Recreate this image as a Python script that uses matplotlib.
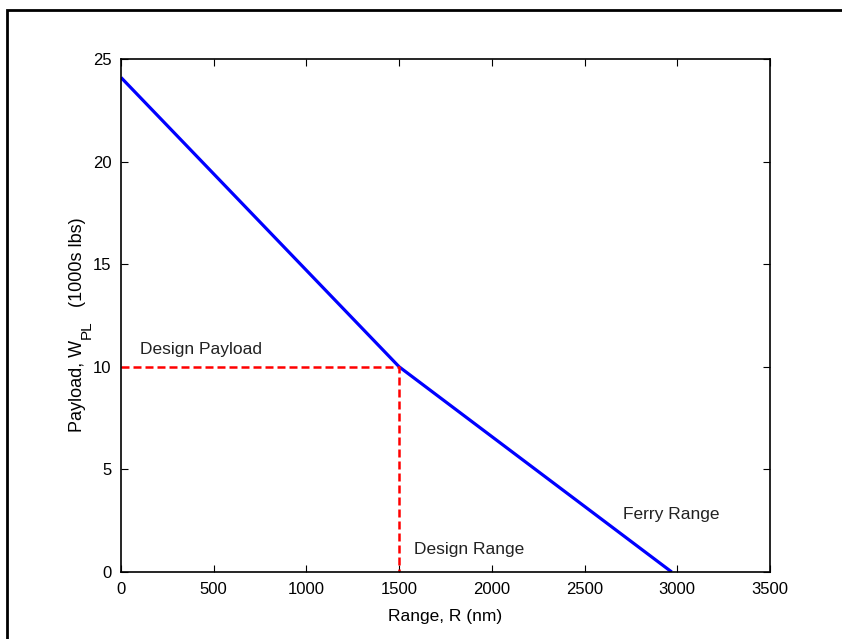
import matplotlib
matplotlib.use('Agg')
import matplotlib.pyplot as plt
from matplotlib.patches import Rectangle

plt.rcParams['font.family'] = ['Liberation Sans', 'DejaVu Sans']

# payload-range envelope (nm, 1000s lbs)
range_nm = [0, 1500, 2970]
payload = [24.1, 10, 0]

design_range = 1500
design_payload = 10

x_ticks = [0, 500, 1000, 1500, 2000, 2500, 3000, 3500]
y_ticks = [0, 5, 10, 15, 20, 25]

fig = plt.figure(figsize=(8.42, 6.39), dpi=100)
ax = fig.add_axes([121/842, 1 - 572/639, 649/842, 513/639])

ax.plot(range_nm, payload, color='#0000ff', lw=2.3, solid_capstyle='butt')
ax.plot([0, design_range, design_range], [design_payload, design_payload, 0],
        color='#ff0000', lw=1.8, ls=(0, (3.2, 1.6)))

ax.text(100, 10.6, 'Design Payload', fontsize=12.5, color='#222222')
ax.text(1580, 0.9, 'Design Range', fontsize=12.5, color='#222222')
ax.text(2705, 2.6, 'Ferry Range', fontsize=12.5, color='#222222')

ax.set_xlim(0, 3500)
ax.set_ylim(0, 25)
ax.set_xticks(x_ticks)
ax.set_yticks(y_ticks)
ax.tick_params(direction='in', top=True, right=True, labelsize=12, length=5, width=0.8, pad=7)
for s in ax.spines.values():
    s.set_linewidth(1.2)

ax.set_xlabel('Range, R (nm)', fontsize=12.5, labelpad=9)

# y label built in pieces so the PL subscript sits low and large
t1 = fig.text(77/842, 1 - 432/639, 'Payload, W', rotation=90,
              ha='center', va='bottom', fontsize=13)
t2 = ax.annotate('PL', xy=(0.5, 1), xycoords=t1, xytext=(10, 1),
                 textcoords='offset pixels', rotation=90,
                 ha='center', va='bottom', fontsize=11)
t3 = ax.annotate('(1000s lbs)', xy=(0.5, 1), xycoords=t2, xytext=(-10, 13),
                 textcoords='offset pixels', rotation=90,
                 ha='center', va='bottom', fontsize=13)

# frame around the figure
fig.patches.append(Rectangle((7/842, -0.1), 1.1, 1 - 10/639 + 0.1,
                             transform=fig.transFigure, fill=False,
                             lw=2, edgecolor='black'))

plt.savefig('out.png', dpi=100)
